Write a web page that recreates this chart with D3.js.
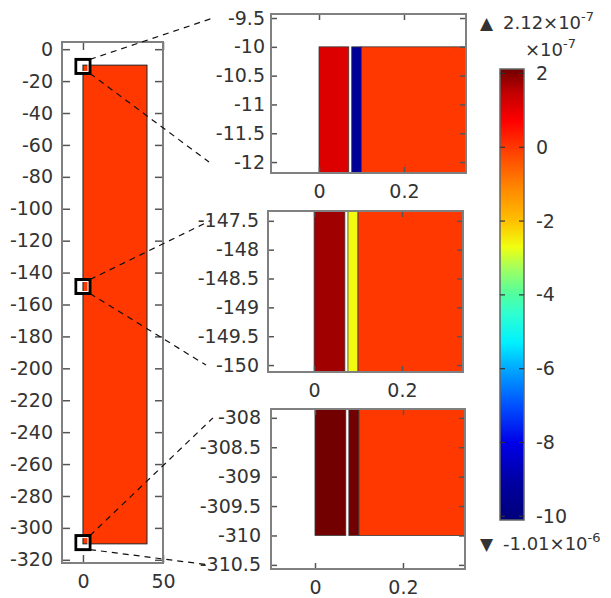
<!DOCTYPE html>
<html>
<head>
<meta charset="utf-8">
<script src="https://cdn.jsdelivr.net/npm/d3@7"></script>
<style>
  body{margin:0;background:#fff;}
  svg text{font-family:"DejaVu Sans",sans-serif;fill:#333;}
</style>
</head>
<body>
<svg id="svg" width="611" height="598"></svg>
<script>
// main domain (left panel)
const mainRect = {x0:0, x1:40, y0:-310, y1:-10};
const mainValue = 0;
const leftYTicks = d3.range(0, -321, -20);
const leftXTicks = [0, 50];

// zoom insets
const insetYDomains = [[-12.19,-9.43],[-150.12,-147.33],[-310.57,-307.85]];
const insetXDomains = [[-0.113,0.346],[-0.105,0.339],[-0.1,0.341]];
const insetYTicks = [
  [-9.5,-10,-10.5,-11,-11.5,-12],
  [-147.5,-148,-148.5,-149,-149.5,-150],
  [-308,-308.5,-309,-309.5,-310,-310.5]
];
const insetXTicks = [0, 0.2];
// layers across x: [x0,x1]
const layerX = [[0,0.07],[0.077,0.1],[0.1,40]];
// value (x1e-7) of each layer in each inset
const layerValues = [
  [1.13,-9.3,0],
  [1.75,-2.65,0],
  [2.1,2.1,0]
];

// colour bar (x1e-7)
const cbRange = [-10.1, 2.12];
const cbTicks = [2,0,-2,-4,-6,-8,-10];
const cmapValues = [-10.1,-9.1,-8,-7,-6,-5.3,-4.5,-4,-3.3,-2.7,-2,-1,0,0.7,1.5,2.12];
const cmapColors = ["#00007a","#0000a0","#0000e8","#0050ff","#00a8ff","#00f0ff","#30ffd0","#50ffa0",
                    "#a0ff60","#f0ff10","#ffc000","#ff8000","#ff3800","#ff0000","#c00000","#700000"];

const color = d3.scaleLinear().domain(cmapValues).range(cmapColors).interpolate(d3.interpolateRgb).clamp(true);

const svg = d3.select("#svg");
const frameColor = "#808080";
const fs = 19;
const fmt = d => String(d);

// ---------- left panel ----------
const L = {x:62, y:42, w:101, h:521};
const lx = d3.scaleLinear().domain([-13.1, 50]).range([L.x, L.x+L.w]);
const ly = d3.scaleLinear().domain([-322, 4.5]).range([L.y+L.h, L.y]);

const gL = svg.append("g");
gL.append("rect")
  .attr("x", lx(mainRect.x0)).attr("y", ly(mainRect.y1))
  .attr("width", lx(mainRect.x1)-lx(mainRect.x0))
  .attr("height", ly(mainRect.y0)-ly(mainRect.y1))
  .attr("fill", color(mainValue)).attr("stroke","#222").attr("stroke-width",1);

function styleAxis(g, showText){
  g.select(".domain").remove();
  g.selectAll(".tick line").attr("stroke","#555").attr("stroke-width",1.5);
  g.selectAll(".tick text").attr("font-size",fs).attr("fill","#383838")
    .attr("font-family","DejaVu Sans, sans-serif");
  if(!showText) g.selectAll(".tick text").remove();
}

function drawAxes(g, x, y, box, yTicks, xTicks, padY, tick){
  g.append("g").attr("transform",`translate(${box.x},0)`)
    .call(d3.axisLeft(y).tickValues(yTicks).tickSize(-tick).tickPadding(padY).tickFormat(fmt))
    .call(a=>styleAxis(a,true));
  g.append("g").attr("transform",`translate(${box.x+box.w},0)`)
    .call(d3.axisRight(y).tickValues(yTicks).tickSize(-tick))
    .call(a=>styleAxis(a,false));
  g.append("g").attr("transform",`translate(0,${box.y+box.h})`)
    .call(d3.axisBottom(x).tickValues(xTicks).tickSize(-tick).tickPadding(12).tickFormat(fmt))
    .call(a=>styleAxis(a,true));
  g.append("g").attr("transform",`translate(0,${box.y})`)
    .call(d3.axisTop(x).tickValues(xTicks).tickSize(-tick))
    .call(a=>styleAxis(a,false));
  g.append("rect").attr("x",box.x).attr("y",box.y).attr("width",box.w).attr("height",box.h)
    .attr("fill","none").attr("stroke",frameColor).attr("stroke-width",2);
}

drawAxes(gL, lx, ly, L, leftYTicks, leftXTicks, 9, 8);

// ---------- insets ----------
const boxes = [
  {x:271, y:14, w:195, h:159, pad:6},
  {x:268, y:211, w:195, h:161, pad:9},
  {x:271, y:409, w:194, h:160, pad:10}
];

const markers = [];
boxes.forEach((b,i)=>{
  const x = d3.scaleLinear().domain(insetXDomains[i]).range([b.x, b.x+b.w]);
  const y = d3.scaleLinear().domain(insetYDomains[i]).range([b.y+b.h, b.y]);
  const g = svg.append("g");
  const clipId = "clip"+i;
  svg.append("clipPath").attr("id",clipId).append("rect")
    .attr("x",b.x).attr("y",b.y).attr("width",b.w).attr("height",b.h);
  const gs = g.append("g").attr("clip-path",`url(#${clipId})`);
  gs.selectAll("rect").data(layerX.map((l,j)=>({x0:l[0],x1:l[1],v:layerValues[i][j]})))
    .enter().append("rect")
    .attr("x", d=>x(d.x0)).attr("width", d=>x(d.x1)-x(d.x0))
    .attr("y", y(mainRect.y1)).attr("height", y(mainRect.y0)-y(mainRect.y1))
    .attr("fill", d=>color(d.v))
    .attr("stroke","#3a3a3a").attr("stroke-width",0.8);
  drawAxes(g, x, y, b, insetYTicks[i], insetXTicks, b.pad, 6);

  const yt = insetYTicks[i];
  markers.push({
    cy: (insetYDomains[i][0]+insetYDomains[i][1])/2,
    top: [b.x-58, y(yt[0])],
    bottom: [b.x-62, y(yt[yt.length-1])]
  });
});

// marker squares and connector lines
const ms = 14;
markers.forEach(m=>{
  const cx = lx(0), cy = ly(m.cy);
  svg.append("line")
    .attr("x1",cx+ms/2).attr("y1",cy-ms/2).attr("x2",m.top[0]).attr("y2",m.top[1])
    .attr("stroke","#111").attr("stroke-width",1.2).attr("stroke-dasharray","6,5");
  svg.append("line")
    .attr("x1",cx+ms/2).attr("y1",cy+ms/2).attr("x2",m.bottom[0]).attr("y2",m.bottom[1])
    .attr("stroke","#111").attr("stroke-width",1.2).attr("stroke-dasharray","6,5");
  svg.append("rect").attr("x",cx-ms/2).attr("y",cy-ms/2).attr("width",ms).attr("height",ms)
    .attr("fill","none").attr("stroke","#000").attr("stroke-width",3);
  svg.append("rect").attr("x",cx-ms/2+2).attr("y",cy-ms/2+2).attr("width",ms-4).attr("height",ms-4)
    .attr("fill","none").attr("stroke","#fff").attr("stroke-width",1);
});

// ---------- colour bar ----------
const CB = {x:500, y:69, w:24, h:451};
const cy = d3.scaleLinear().domain(cbRange).range([CB.y+CB.h, CB.y]);
const grad = svg.append("defs").append("linearGradient").attr("id","cbgrad")
  .attr("x1","0").attr("y1","1").attr("x2","0").attr("y2","0");
cmapValues.forEach((v,i)=>{
  grad.append("stop").attr("offset",(v-cbRange[0])/(cbRange[1]-cbRange[0])).attr("stop-color",cmapColors[i]);
});
svg.append("rect").attr("x",CB.x).attr("y",CB.y).attr("width",CB.w).attr("height",CB.h)
  .attr("fill","url(#cbgrad)").attr("stroke","#666").attr("stroke-width",1.5);

const gcb = svg.append("g").attr("transform",`translate(${CB.x+CB.w},0)`)
  .call(d3.axisRight(cy).tickValues(cbTicks).tickSize(0).tickPadding(12).tickFormat(fmt))
  .call(a=>styleAxis(a,true));
svg.append("g").selectAll("line").data(cbTicks).enter().append("line")
  .attr("x1",CB.x).attr("x2",CB.x+5).attr("y1",d=>cy(d)).attr("y2",d=>cy(d))
  .attr("stroke","#333").attr("stroke-width",1.2);
svg.append("g").selectAll("line").data(cbTicks).enter().append("line")
  .attr("x1",CB.x+CB.w-5).attr("x2",CB.x+CB.w).attr("y1",d=>cy(d)).attr("y2",d=>cy(d))
  .attr("stroke","#333").attr("stroke-width",1.2);

function sciText(x, y, mant, exp){
  const t = svg.append("text").attr("x",x).attr("y",y).attr("font-size",18).attr("fill","#383838");
  t.append("tspan").text(mant+"×10");
  t.append("tspan").attr("dy",-8).attr("font-size",13).text(exp);
  return t;
}
svg.append("text").attr("x",480).attr("y",29).attr("font-size",17).attr("fill","#111").text("▲");
sciText(503, 29, "2.12", "-7");
sciText(525, 56, "", "-7");
svg.append("text").attr("x",480).attr("y",550).attr("font-size",17).attr("fill","#111").text("▼");
sciText(503, 550, "-1.01", "-6");
</script>
</body>
</html>
